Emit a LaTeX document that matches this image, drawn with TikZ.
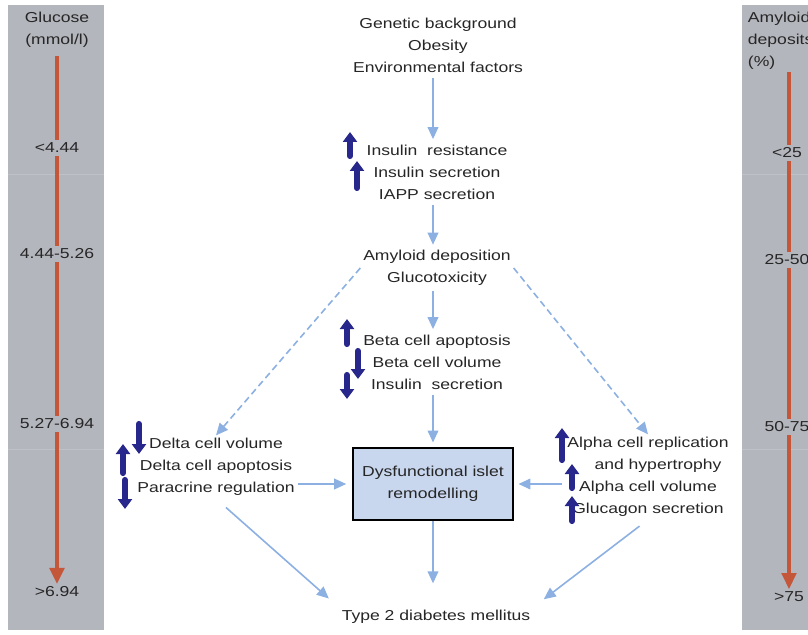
\documentclass[tikz,border=0pt]{standalone}
\usepackage{fontspec}
\setmainfont{Liberation Sans}[FakeStretch=1.22]
\usetikzlibrary{arrows.meta,positioning}
\definecolor{flowblue}{RGB}{140,176,226}
\definecolor{panelgray}{RGB}{180,182,189}
\definecolor{scalered}{RGB}{196,86,58}
\definecolor{navy}{RGB}{40,40,140}
\definecolor{boxblue}{RGB}{200,214,238}

\begin{document}
\begin{tikzpicture}[x=0.75pt,y=-0.75pt,
  every node/.style={font=\fontsize{10.8}{16.5}\selectfont,text=black!85,inner sep=2pt},
  txtnode/.style={align=center},
  isletbox/.style={draw=black,line width=2.2pt,fill=boxblue,minimum width=120pt,minimum height=54pt,align=center},
  flow/.style={draw=flowblue,line width=1.2pt,-{Triangle[width=8pt,length=9pt]}},
  dashflow/.style={flow,dash pattern=on 5pt off 3pt},
  scalearr/.style={draw=scalered,line width=2.4pt},
  bigarr/.style={draw=navy,line width=4.6pt,line cap=round,-{Triangle[width=10.5pt,length=7.5pt]}}]

	\useasboundingbox (0,0) rectangle (808,635);
	\clip (0,0) rectangle (808,635);

	% side panels
	\fill[panelgray] (8,5) rectangle (104,630);
	\fill[panelgray] (742,5) rectangle (812,630);
	\draw[panelgray!85!white,line width=0.4pt] (8,174) -- (104,174) (8,449) -- (104,449);
	\draw[panelgray!85!white,line width=0.4pt] (742,174) -- (812,174) (742,449) -- (812,449);

	\node [txtnode] (glucose) at (57,30) {Glucose\\(mmol/l)};
	\node (g1) at (57,148) {<4.44};
	\node (g2) at (57,254) {4.44-5.26};
	\node (g3) at (57,424) {5.27-6.94};
	\node (g4) at (57,592) {>6.94};

	\node [align=left,anchor=north west] (amyl) at (745,9) {Amyloid\\deposits\\(\%)};
	\node (a1) at (787,153) {<25};
	\node (a2) at (787,260) {25-50};
	\node (a3) at (787,427) {50-75};
	\node (a4) at (789,597) {>75};

	\draw[scalearr,shorten <=4pt] (glucose.south) -- (g1.north);
	\draw[scalearr] (g1.south) -- (g2.north);
	\draw[scalearr] (g2.south) -- (g3.north);
	\draw[scalearr,-{Triangle[width=11pt,length=12pt]}] (g3.south) -- (g4.north);

	\draw[scalearr] (amyl.south -| a4.center) -- (a1.north -| a4.center);
	\draw[scalearr] (a1.south -| a4.center) -- (a2.north -| a4.center);
	\draw[scalearr] (a2.south -| a4.center) -- (a3.north -| a4.center);
	\draw[scalearr,-{Triangle[width=11pt,length=12pt]}] (a3.south -| a4.center) -- (a4.north);

	% main flow
	\node [txtnode] (causes) at (438,45) {Genetic background\\Obesity\\Environmental factors};
	\node [txtnode] (insulin) at (437,172) {Insulin~ resistance\\Insulin secretion\\IAPP secretion};
	\node [txtnode] (amyloid) at (437,268) {Amyloid deposition\\Glucotoxicity};
	\node [txtnode] (beta) at (437,362) {Beta cell apoptosis\\Beta cell volume\\Insulin~ secretion};
	\node [isletbox] (islet) at (433,484) {Dysfunctional islet\\remodelling};
	\node [txtnode] (delta) at (216,467) {Delta cell volume\\Delta cell apoptosis\\Paracrine regulation};
	\node [txtnode] (alpha) at (648,477) {Alpha cell replication\\\hspace*{15pt}and hypertrophy\\Alpha cell volume\\Glucagon secretion};
	\node (t2dm) at (436,617) {Type 2 diabetes mellitus};

	\draw[flow,shorten <=2pt,shorten >=2pt] (causes.south -| islet.center) -- (insulin.north -| islet.center);
	\draw[flow,shorten <=2pt,shorten >=2pt] (insulin.south -| islet.center) -- (amyloid.north -| islet.center);
	\draw[flow,shorten <=2pt,shorten >=2pt] (amyloid.south -| islet.center) -- (beta.north -| islet.center);
	\draw[flow,shorten <=2pt,shorten >=3pt] (beta.south -| islet.center) -- (islet.north);
	\draw[flow,shorten >=18pt] (islet.south) -- (t2dm.north -| islet.center);
	\draw[flow,shorten >=4pt] (delta.east |- islet.west) -- (islet.west);
	\draw[flow,shorten <=2pt,shorten >=3pt] (alpha.west |- islet.east) -- (islet.east);
	\draw[dashflow] (amyloid.west) -- (delta.north);
	\draw[dashflow] (amyloid.east) -- (alpha.north);
	\draw[flow,shorten <=10pt,shorten >=10pt] (delta.south) -- (t2dm.north west);
	\draw[flow,shorten <=8pt,shorten >=10pt] (alpha.south) -- (t2dm.north east);

	% up and down marks
	\draw[bigarr] (350,156) -- (350,132);
	\draw[bigarr] (357,188) -- (357,161);
	\draw[bigarr] (347,344) -- (347,319);
	\draw[bigarr] (358,351) -- (358,379);
	\draw[bigarr] (347,375) -- (347,399);
	\draw[bigarr] (139,424) -- (139,454);
	\draw[bigarr] (123,473) -- (123,444);
	\draw[bigarr] (125,480) -- (125,509);
	\draw[bigarr] (562,460) -- (562,428);
	\draw[bigarr] (572,488) -- (572,464);
	\draw[bigarr] (572,521) -- (572,496);
\end{tikzpicture}
\end{document}
